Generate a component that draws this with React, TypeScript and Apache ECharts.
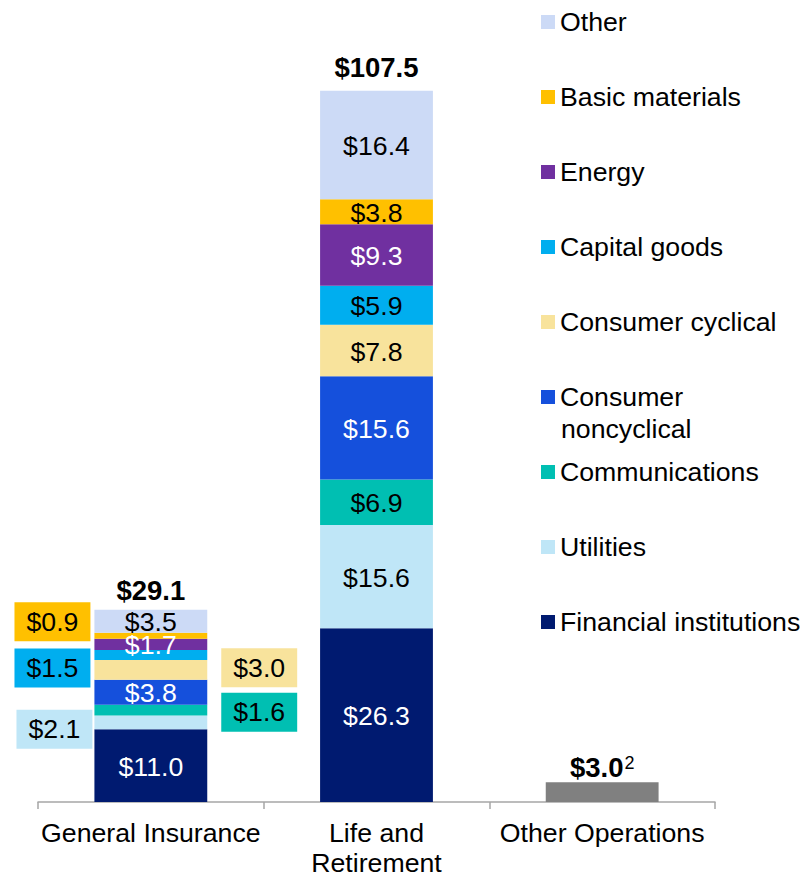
import React, { useEffect, useRef } from "react";
import * as echarts from "echarts";

const categories = ["General Insurance", "Life and\nRetirement", "Other Operations"];

// stack order: bottom -> top
const sectorNames = [
  "Financial institutions",
  "Utilities",
  "Communications",
  "Consumer noncyclical",
  "Consumer cyclical",
  "Capital goods",
  "Energy",
  "Basic materials",
  "Other",
];

const financialInstitutions = [11.0, 26.3, null];
const utilities = [2.1, 15.6, null];
const communications = [1.6, 6.9, null];
const consumerNoncyclical = [3.8, 15.6, null];
const consumerCyclical = [3.0, 7.8, null];
const capitalGoods = [1.5, 5.9, null];
const energy = [1.7, 9.3, null];
const basicMaterials = [0.9, 3.8, null];
const other = [3.5, 16.4, null];

const totals = [29.1, 107.5, 3.0];

const sectorValues = [
  financialInstitutions,
  utilities,
  communications,
  consumerNoncyclical,
  consumerCyclical,
  capitalGoods,
  energy,
  basicMaterials,
  other,
];

const sectorColors = [
  "#001A70",
  "#BFE6F7",
  "#00BFB2",
  "#1550DC",
  "#F8E39C",
  "#00AEEF",
  "#7030A0",
  "#FFC000",
  "#CCDAF6",
];

const labelColors = ["#fff", "#000", "#000", "#fff", "#000", "#000", "#fff", "#000", "#000"];

const FONT = "'Liberation Sans', Arial, sans-serif";
const FS = 26.7;
const FSB = 27.5;

// outside labels for General Insurance (index 0)
const outsideLabels: Record<string, any> = {
  "Basic materials": { position: "left", distance: 4, offset: [0, -14] },
  "Capital goods": { position: "left", distance: 4, offset: [0, 13] },
  Utilities: { position: "left", distance: 2, offset: [0, 7] },
  "Consumer cyclical": { position: "right", distance: 14, offset: [0, -2] },
  Communications: { position: "right", distance: 14, offset: [0, 2] },
};

const fmt = (v: number) => "$" + v.toFixed(1);

export default function App() {
  const ref = useRef<HTMLDivElement>(null);

  useEffect(() => {
    document.body.style.margin = "0";
    if (!ref.current) return;
    const chart = echarts.init(ref.current, null, { renderer: "svg" });

    const series: any[] = sectorNames.map((name, si) => ({
      name,
      type: "bar",
      stack: "sectors",
      barWidth: "50%",
      barGap: "-100%",
      itemStyle: { color: sectorColors[si] },
      label: {
        show: true,
        position: "inside",
        fontSize: FS,
        fontFamily: FONT,
        color: labelColors[si],
        offset: [0, 1],
        formatter: (p: any) => fmt(p.value),
      },
      data: sectorValues[si].map((v, ci) => {
        if (v == null) return null;
        const out = ci === 0 ? outsideLabels[name] : undefined;
        if (out) {
          return {
            value: v,
            label: {
              ...out,
              color: "#000",
              backgroundColor: sectorColors[si],
              padding: [6, 12],
              lineHeight: 27,
            },
          };
        }
        return v;
      }),
    }));

    const totalDistances = [6, 11, 1];
    series.push({
      name: "Total",
      type: "bar",
      barWidth: "50%",
      barGap: "-100%",
      silent: true,
      z: 3,
      label: {
        show: true,
        position: "top",
        fontFamily: FONT,
        color: "#000",
        formatter: (p: any) =>
          p.dataIndex === 2 ? "{b|" + fmt(p.value) + "}{s|2}" : "{t|" + fmt(p.value) + "}",
        rich: {
          t: { fontSize: FSB, fontWeight: "bold", lineHeight: 27, fontFamily: FONT, color: "#000" },
          b: {
            fontSize: FSB,
            fontWeight: "bold",
            lineHeight: 27,
            padding: [8, 0, 0, 0],
            verticalAlign: "bottom",
            fontFamily: FONT,
            color: "#000",
          },
          s: { fontSize: 18, lineHeight: 18, verticalAlign: "top", padding: [0, 0, 0, 1], fontFamily: FONT, color: "#000" },
        },
      },
      data: totals.map((v, i) => ({
        value: v,
        itemStyle: { color: i === 2 ? "#808080" : "rgba(0,0,0,0)" },
        label: { distance: totalDistances[i] },
      })),
    });

    chart.setOption({
      animation: false,
      grid: { left: 38, right: 89, top: 75, bottom: 73, containLabel: false },
      xAxis: {
        type: "category",
        data: categories,
        axisLine: { show: true, lineStyle: { color: "#A6A6A6", width: 1.5 } },
        axisTick: { show: true, length: 7, lineStyle: { color: "#A6A6A6", width: 1.5 } },
        axisLabel: {
          interval: 0,
          fontSize: FS,
          lineHeight: 30,
          margin: 16,
          color: "#000",
          fontFamily: FONT,
        },
      },
      yAxis: { type: "value", min: 0, max: 110, show: false, splitLine: { show: false } },
      legend: {
        orient: "vertical",
        left: 541,
        top: 8.5,
        padding: 0,
        itemWidth: 14,
        itemHeight: 14,
        itemGap: 48,
        icon: "rect",
        selectedMode: false,
        data: [...sectorNames].reverse(),
        formatter: (name: string) => (name === "Consumer noncyclical" ? "Consumer" : name),
        textStyle: { fontSize: FS, lineHeight: 27, color: "#000", fontFamily: FONT },
      },
      graphic: [
        {
          type: "text",
          x: 561,
          y: 429,
          style: {
            text: "noncyclical",
            fontSize: FS,
            fontFamily: FONT,
            fill: "#000",
            verticalAlign: "middle",
          },
        },
      ],
      series,
    });

    return () => chart.dispose();
  }, []);

  return <div ref={ref} style={{ width: 804, height: 878 }} />;
}
